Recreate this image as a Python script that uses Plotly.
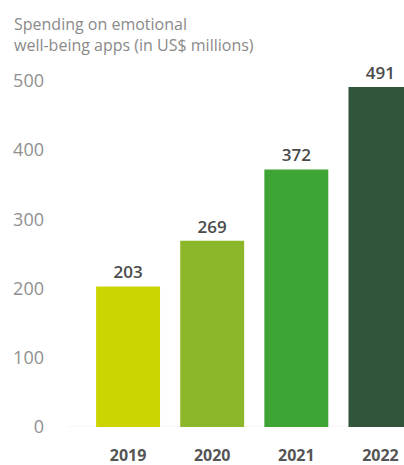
import plotly.graph_objects as go

years = ["2019", "2020", "2021", "2022"]
spending = [203, 269, 372, 491]
colors = ["#cdd500", "#8db72a", "#3ea535", "#30553a"]
y_ticks = [0, 100, 200, 300, 400, 500]

fig = go.Figure(go.Bar(
    x=years, y=spending,
    marker=dict(color=colors, line=dict(width=0)),
    text=[str(v) for v in spending],
    textposition="outside",
    cliponaxis=False,
    textfont=dict(family="Open Sans", size=17, color="#4a4a4a", weight=600),
    width=0.76,
))

fig.update_layout(
    width=404, height=465,
    margin=dict(l=86, r=0, t=67, b=38, autoexpand=False),
    paper_bgcolor="white", plot_bgcolor="white",
    showlegend=False,
    font=dict(family="Open Sans"),
    xaxis=dict(
        type="category", range=[-0.5, 3.28], automargin=False,
        showgrid=False, showline=False, zeroline=False, ticks="",
        tickfont=dict(family="Open Sans", size=16, color="#555555", weight=700),
        ticklabelstandoff=17,
    ),
    yaxis=dict(
        range=[0, 520], tickvals=y_ticks, automargin=False,
        showgrid=False, zeroline=False, showline=False, ticks="",
        tickfont=dict(family="Open Sans", size=18, color="#909090"),
        ticklabelstandoff=41,
    ),
    annotations=[dict(
        text="Spending on emotional<br>well-being apps (in US$ millions)",
        xref="paper", yref="paper", x=-86/318 + 12/318, y=1 + 56/360,
        xanchor="left", yanchor="top", align="left", showarrow=False,
        font=dict(family="Open Sans", size=16, color="#8a8a8a"),
    )],
    shapes=[dict(type="line", xref="paper", yref="y", x0=-18/318, x1=1, y0=0, y1=0,
                 line=dict(color="#eeeeee", width=1), layer="below")],
)

fig.write_html("out.html")
